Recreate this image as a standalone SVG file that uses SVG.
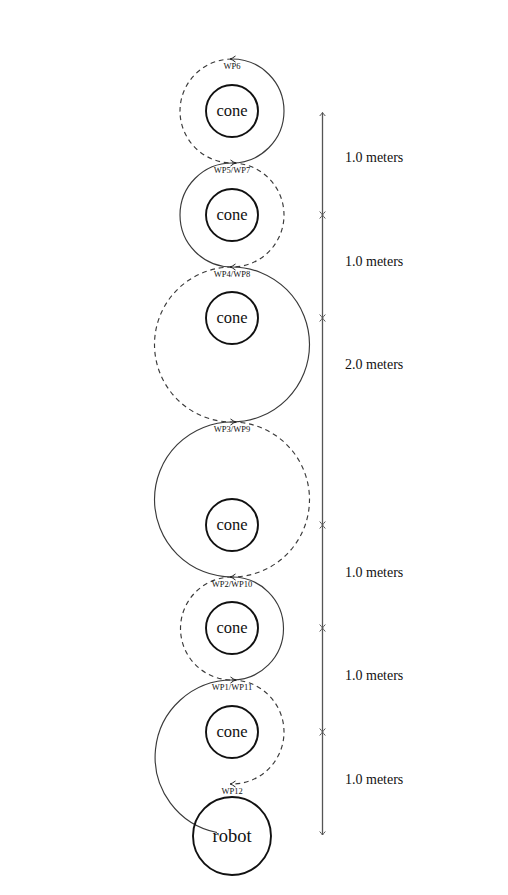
<svg xmlns="http://www.w3.org/2000/svg" width="508" height="895" viewBox="0 0 508 895">
<style>
.solid{fill:none;stroke:#3a3a3a;stroke-width:1.15}
.dash{fill:none;stroke:#3a3a3a;stroke-width:1.15;stroke-dasharray:4.8 3.8}
.cone{fill:none;stroke:#111;stroke-width:1.9}
.tip{fill:none;stroke:#222;stroke-width:1}
.ruler{fill:none;stroke:#555;stroke-width:1.3;marker-start:url(#rt);marker-end:url(#rt)}
.lbl{font-family:"Liberation Serif","Times New Roman",serif;fill:#111}
.wp{font-size:8.5px;text-anchor:middle}
.node{font-size:16.5px;text-anchor:middle}
.m{font-size:14px}
</style>
<defs>
<marker id="rt" markerUnits="userSpaceOnUse" markerWidth="10" markerHeight="10" refX="0" refY="0" viewBox="-5 -5 10 10" orient="auto-start-reverse">
<path d="M-3.5,-2.8 Q-1,-0.6 0,0 Q-1,0.6 -3.5,2.8" fill="none" stroke="#555" stroke-width="1"/>
</marker>
</defs>
<rect width="508" height="895" fill="#fff"/>
<g id="connectors">
<path class="solid" d="M232,59 A52,52 0 0 1 232,163"/>
<path class="dash" d="M232,59 A52,52 0 0 0 232,163"/>
<path class="solid" d="M232,163 A52,52 0 0 0 232,267"/>
<path class="dash" d="M232,163 A52,52 0 0 1 232,267"/>
<path class="solid" d="M232,267 A77.5,77.5 0 0 1 232,422"/>
<path class="dash" d="M232,267 A77.5,77.5 0 0 0 232,422"/>
<path class="solid" d="M232,422 A77.5,77.5 0 0 0 232,577"/>
<path class="dash" d="M232,422 A77.5,77.5 0 0 1 232,577"/>
<path class="solid" d="M232,577 A51.5,51.5 0 0 1 232,680"/>
<path class="dash" d="M232,577 A51.5,51.5 0 0 0 232,680"/>
<path class="dash" d="M232,680 A52,52 0 0 1 232,784"/>
<path class="solid" d="M217,832.5 A77,77 0 0 1 232,680"/>
<path class="tip" d="M235.5,56 Q232,58.6 230,59 Q232,59.4 235.5,62"/>
<path class="tip" d="M230.5,160 Q234,162.6 236,163 Q234,163.4 230.5,166"/>
<path class="tip" d="M235.5,264 Q232,266.6 230,267 Q232,267.4 235.5,270"/>
<path class="tip" d="M230.5,419 Q234,421.6 236,422 Q234,422.4 230.5,425"/>
<path class="tip" d="M235.5,574 Q232,576.6 230,577 Q232,577.4 235.5,580"/>
<path class="tip" d="M230.5,677 Q234,679.6 236,680 Q234,680.4 230.5,683"/>
<path class="tip" d="M235.5,781 Q232,783.6 230,784 Q232,784.4 235.5,787"/>
</g>
<g id="ruler">
<line class="ruler" x1="322.5" y1="112.5" x2="322.5" y2="215"/>
<line class="ruler" x1="322.5" y1="215" x2="322.5" y2="318"/>
<line class="ruler" x1="322.5" y1="318" x2="322.5" y2="525"/>
<line class="ruler" x1="322.5" y1="525" x2="322.5" y2="628"/>
<line class="ruler" x1="322.5" y1="628" x2="322.5" y2="732"/>
<line class="ruler" x1="322.5" y1="732" x2="322.5" y2="835"/>
<text class="lbl m" x="345" y="162">1.0 meters</text>
<text class="lbl m" x="345" y="266">1.0 meters</text>
<text class="lbl m" x="345" y="369">2.0 meters</text>
<text class="lbl m" x="345" y="577">1.0 meters</text>
<text class="lbl m" x="345" y="680">1.0 meters</text>
<text class="lbl m" x="345" y="784">1.0 meters</text>
</g>
<g id="waypoints">
<text class="lbl wp" x="232" y="69">WP6</text>
<text class="lbl wp" x="232" y="173">WP5/WP7</text>
<text class="lbl wp" x="232" y="277">WP4/WP8</text>
<text class="lbl wp" x="232" y="432">WP3/WP9</text>
<text class="lbl wp" x="232" y="587">WP2/WP10</text>
<text class="lbl wp" x="232" y="690">WP1/WP11</text>
<text class="lbl wp" x="232" y="794">WP12</text>
</g>
<g id="cone1"><circle class="cone" cx="232" cy="111" r="26"/><text class="lbl node" x="232" y="115.5">cone</text></g>
<g id="cone2"><circle class="cone" cx="232" cy="215" r="26"/><text class="lbl node" x="232" y="219.5">cone</text></g>
<g id="cone3"><circle class="cone" cx="232" cy="318" r="26"/><text class="lbl node" x="232" y="322.5">cone</text></g>
<g id="cone4"><circle class="cone" cx="232" cy="525" r="26"/><text class="lbl node" x="232" y="529.5">cone</text></g>
<g id="cone5"><circle class="cone" cx="232" cy="628" r="26"/><text class="lbl node" x="232" y="632.5">cone</text></g>
<g id="cone6"><circle class="cone" cx="232" cy="732" r="26"/><text class="lbl node" x="232" y="736.5">cone</text></g>
<g id="robot"><circle class="cone" cx="232" cy="836" r="39"/><text class="lbl node" x="232" y="842" style="font-size:18.5px">robot</text></g>
</svg>
